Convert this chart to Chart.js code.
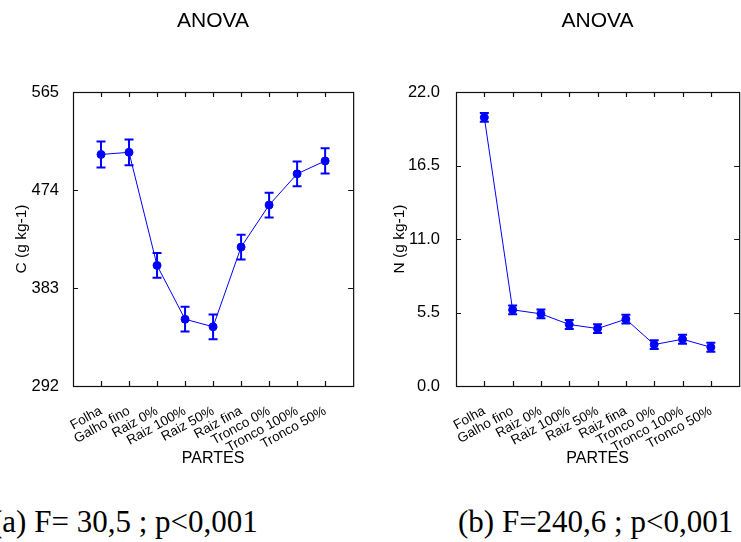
<!DOCTYPE html>
<html>
<head>
<meta charset="utf-8">
<script src="https://cdn.jsdelivr.net/npm/chart.js@4.4.1/dist/chart.umd.min.js"></script>
<style>
    html, body { margin: 0; padding: 0; background: #fff; overflow: hidden; width: 741px; height: 542px; }
    canvas { position: absolute; top: 0; }
    #chartC { left: 0; }
    #chartN { left: 370px; }
    .caption { position: absolute; top: 506px; font-family: "Liberation Serif", "Times New Roman", serif; font-size: 31px; line-height: 31px; color: #000; white-space: nowrap; }
</style>
</head>
<body>
<canvas id="chartC" width="370" height="480"></canvas>
<canvas id="chartN" width="386" height="480"></canvas>
<div class="caption" style="left:-8px;">(a) F= 30,5 ; p&lt;0,001</div>
<div class="caption" style="left:458px;">(b) F=240,6 ; p&lt;0,001</div>
<script>
// Categories (plant parts)
const partes = ['Folha', 'Galho fino', 'Raiz 0%', 'Raiz 100%', 'Raiz 50%', 'Raiz fina', 'Tronco 0%', 'Tronco 100%', 'Tronco 50%'];

// Carbon means and error (g kg-1)
const carbono = [507, 509, 404, 354, 347, 421, 460, 489, 501];
const carbonoErro = [12, 12, 11.5, 11.5, 11.5, 11.5, 11.5, 11.5, 11.7];

// Nitrogen means and error (g kg-1)
const nitrogenio = [20.1, 5.7, 5.4, 4.6, 4.3, 5.0, 3.1, 3.5, 2.9];
const nitrogenioErro = [0.33, 0.33, 0.33, 0.33, 0.33, 0.33, 0.33, 0.33, 0.33];

// Y axis tick settings
const cTicks = { min: 292, max: 565, step: 91 };
const nTicks = { min: 0, max: 22, step: 5.5 };

const azul = '#0000ff';

document.addEventListener('DOMContentLoaded', function() {

    // draws the box and the inward ticks on all four sides
    const framePlugin = {
        id: 'frame',
        afterDraw: function(chart) {
            const ctx = chart.ctx;
            const area = chart.chartArea;
            const xs = chart.scales.x;
            const ys = chart.scales.y;
            const len = 5;
            ctx.save();
            ctx.strokeStyle = '#111';
            ctx.lineWidth = 1.2;
            ctx.strokeRect(area.left + 0.5, area.top + 0.5, area.right - area.left, area.bottom - area.top);
            ctx.beginPath();
            ys.ticks.forEach(function(t) {
                const py = Math.round(ys.getPixelForValue(t.value)) + 0.5;
                ctx.moveTo(area.left, py); ctx.lineTo(area.left + len, py);
                ctx.moveTo(area.right, py); ctx.lineTo(area.right - len, py);
            });
            xs.ticks.forEach(function(t) {
                if (t.value < 1 || t.value > partes.length) return;
                const px = Math.round(xs.getPixelForValue(t.value)) + 0.5;
                ctx.moveTo(px, area.top); ctx.lineTo(px, area.top + len);
                ctx.moveTo(px, area.bottom); ctx.lineTo(px, area.bottom - len);
            });
            ctx.stroke();
            ctx.restore();
        }
    };

    // error bars, drawn through the chart scales
    const errorBarPlugin = {
        id: 'errorBars',
        afterDatasetsDraw: function(chart, args, opts) {
            const ctx = chart.ctx;
            const xs = chart.scales.x;
            const ys = chart.scales.y;
            const values = opts.values;
            const errors = opts.errors;
            ctx.save();
            ctx.strokeStyle = azul;
            ctx.lineWidth = 2;
            ctx.beginPath();
            for (let i = 0; i < values.length; i++) {
                const px = xs.getPixelForValue(i + 1);
                const top = ys.getPixelForValue(values[i] + errors[i]);
                const bot = ys.getPixelForValue(values[i] - errors[i]);
                ctx.moveTo(px, top); ctx.lineTo(px, bot);
                ctx.moveTo(px - 4.5, top); ctx.lineTo(px + 4.5, top);
                ctx.moveTo(px - 4.5, bot); ctx.lineTo(px + 4.5, bot);
            }
            ctx.stroke();
            ctx.restore();
        }
    };

    function makeChart(canvasId, values, errors, yTicks, yLabel, decimals, axisWidth, yTitlePad, tickPad) {
        const points = values.map(function(v, i) { return { x: i + 1, y: v }; });
        return new Chart(document.getElementById(canvasId), {
            type: 'scatter',
            data: {
                datasets: [{
                    data: points,
                    showLine: true,
                    borderColor: azul,
                    backgroundColor: azul,
                    borderWidth: 1,
                    pointRadius: 4,
                    pointHoverRadius: 4
                }]
            },
            options: {
                responsive: false,
                animation: false,
                devicePixelRatio: 1,
                layout: { padding: { left: 0, right: 7, top: 0, bottom: 0 } },
                plugins: {
                    legend: { display: false },
                    tooltip: { enabled: false },
                    title: {
                        display: true,
                        text: 'ANOVA',
                        fullSize: false,
                        color: '#000',
                        font: { family: 'Liberation Sans', size: 21, weight: 'normal' },
                        padding: { top: 9, bottom: 57.8 }
                    },
                    errorBars: { values: values, errors: errors }
                },
                scales: {
                    x: {
                        type: 'linear',
                        min: 0,
                        max: partes.length + 1,
                        grid: { display: false },
                        border: { display: false },
                        afterFit: function(scale) { scale.height = 94; },
                        ticks: {
                            stepSize: 1,
                            autoSkip: false,
                            maxRotation: 29,
                            minRotation: 29,
                            padding: 9,
                            color: '#000',
                            font: { family: 'Liberation Sans', size: 13.5 },
                            callback: function(v) {
                                return (v >= 1 && v <= partes.length) ? partes[v - 1] : '';
                            }
                        },
                        title: {
                            display: true,
                            text: 'PARTES',
                            color: '#000',
                            font: { family: 'Liberation Sans', size: 16 },
                            padding: { top: 0, bottom: 12 }
                        }
                    },
                    y: {
                        min: yTicks.min,
                        max: yTicks.max,
                        grid: { display: false },
                        border: { display: false },
                        afterFit: function(scale) { scale.width = axisWidth; },
                        ticks: {
                            stepSize: yTicks.step,
                            padding: tickPad,
                            color: '#000',
                            font: { family: 'Liberation Sans', size: 16.5 },
                            callback: function(v) { return v.toFixed(decimals); }
                        },
                        title: {
                            display: true,
                            text: yLabel,
                            color: '#000',
                            font: { family: 'Liberation Sans', size: 15.5 },
                            padding: { top: yTitlePad, bottom: 0 }
                        }
                    }
                }
            },
            plugins: [framePlugin, errorBarPlugin]
        });
    }

    makeChart('chartC', carbono, carbonoErro, cTicks, 'C (g kg-1)', 0, 73, 12, 6);
    makeChart('chartN', nitrogenio, nitrogenioErro, nTicks, 'N (g kg-1)', 1, 86, 20, 8);
});
</script>
</body>
</html>
